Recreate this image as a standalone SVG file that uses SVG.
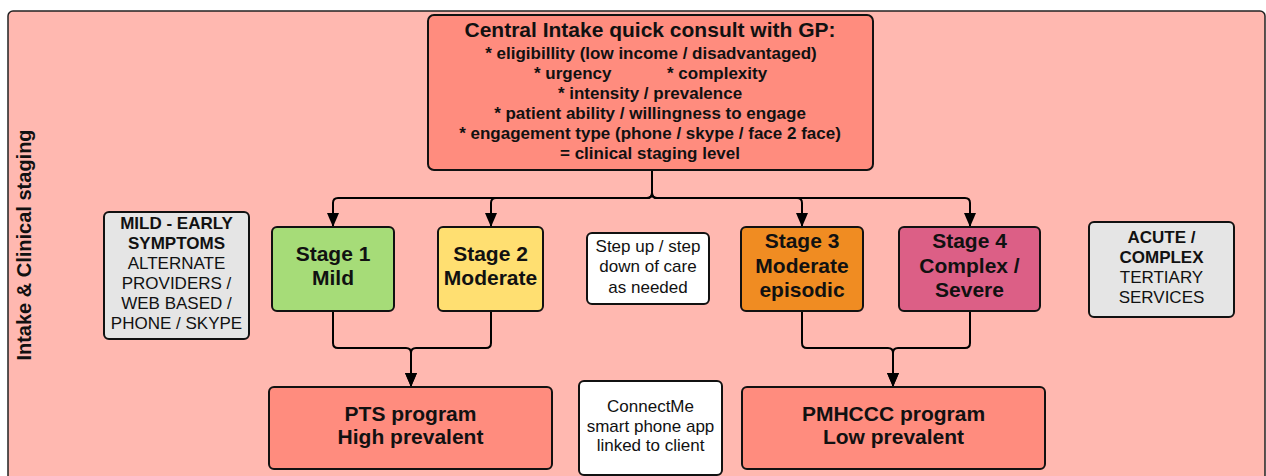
<svg xmlns="http://www.w3.org/2000/svg" width="1266" height="476" viewBox="0 0 1266 476">
  <defs>
    <!-- solid arrowhead, drawn along +x so orient="auto" points it down the wire -->
    <marker id="arrow" markerUnits="userSpaceOnUse" markerWidth="14" markerHeight="12" viewBox="0 0 14 12" refX="14" refY="6" orient="auto">
      <path d="M0,0 L14,6 L0,12 Z" fill="#000"/>
    </marker>
    <style>
      .box { stroke: #111; stroke-width: 2; }
      .lane { fill: #ffb8b0; stroke: #222; stroke-width: 1.5; }
      .salmon { fill: #ff8c7e; }
      .green { fill: #a6dc78; }
      .yellow { fill: #ffdf71; }
      .orange { fill: #f08c22; }
      .pink { fill: #dc5f86; }
      .grey { fill: #e5e5e5; }
      .white { fill: #ffffff; }
      text { font-family: "Liberation Sans", Arial, sans-serif; fill: #111; text-anchor: middle; }
      .b { font-weight: bold; }
      .s17 { font-size: 17px; }
      .s21 { font-size: 21px; }
      .wire { fill: none; stroke: #000; stroke-width: 2; }
    </style>
  </defs>

  <!-- swimlane -->
  <g id="lane">
    <rect class="lane" x="8" y="11" width="1257" height="480" rx="5"/>
    <text class="b" font-size="20" transform="translate(31 245) rotate(-90)">Intake &amp; Clinical staging</text>
  </g>

  <!-- connectors -->
  <g id="connectors">
    <path class="wire" marker-end="url(#arrow)" d="M652 170 V193 Q652 198 647 198 H338 Q333 198 333 203 V227"/>
    <path class="wire" marker-end="url(#arrow)" d="M652 170 V193 Q652 198 647 198 H496 Q491 198 491 203 V227"/>
    <path class="wire" marker-end="url(#arrow)" d="M652 170 V193 Q652 198 657 198 H797 Q802 198 802 203 V227"/>
    <path class="wire" marker-end="url(#arrow)" d="M652 170 V193 Q652 198 657 198 H965 Q970 198 970 203 V227"/>
    <path class="wire" marker-end="url(#arrow)" d="M333 311 V343 Q333 348 338 348 H406 Q411 348 411 353 V387"/>
    <path class="wire" marker-end="url(#arrow)" d="M491 311 V343 Q491 348 486 348 H416 Q411 348 411 353 V387"/>
    <path class="wire" marker-end="url(#arrow)" d="M802 311 V343 Q802 348 807 348 H888 Q893 348 893 353 V387"/>
    <path class="wire" marker-end="url(#arrow)" d="M970 311 V343 Q970 348 965 348 H898 Q893 348 893 353 V387"/>
  </g>

  <g id="central-intake">
    <rect class="box salmon" x="428" y="15" width="445" height="155" rx="6"/>
    <text class="b s21" x="650" y="37">Central Intake quick consult with GP:</text>
    <text class="b s17" x="651" y="59">* eligibillity (low income / disadvantaged)</text>
    <text class="b s17" x="534" y="79" style="text-anchor:start">* urgency</text>
    <text class="b s17" x="667" y="79" style="text-anchor:start">* complexity</text>
    <text class="b s17" x="650" y="99">* intensity / prevalence</text>
    <text class="b s17" x="650" y="119">* patient ability / willingness to engage</text>
    <text class="b s17" x="650" y="139">* engagement type (phone / skype / face 2 face)</text>
    <text class="b s17" x="650" y="159">= clinical staging level</text>
  </g>

  <g id="mild-early">
    <rect class="box grey" x="104" y="212" width="145" height="127" rx="5"/>
    <text class="b s17" x="176.5" y="229">MILD - EARLY</text>
    <text class="b s17" x="176.5" y="249">SYMPTOMS</text>
    <text class="s17" x="176.5" y="269">ALTERNATE</text>
    <text class="s17" x="176.5" y="289">PROVIDERS /</text>
    <text class="s17" x="176.5" y="309">WEB BASED /</text>
    <text class="s17" x="176.5" y="329">PHONE / SKYPE</text>
  </g>

  <g id="stage-1">
    <rect class="box green" x="272" y="227" width="122" height="84" rx="5"/>
    <text class="b s21" x="333" y="261">Stage 1</text>
    <text class="b s21" x="333" y="285">Mild</text>
  </g>

  <g id="stage-2">
    <rect class="box yellow" x="438" y="227" width="105" height="84" rx="5"/>
    <text class="b s21" x="490.5" y="261">Stage 2</text>
    <text class="b s21" x="490.5" y="285">Moderate</text>
  </g>

  <g id="step-care">
    <rect class="box white" x="587" y="233" width="122" height="71" rx="5"/>
    <text class="s17" x="648" y="252">Step up / step</text>
    <text class="s17" x="648" y="272">down of care</text>
    <text class="s17" x="648" y="293">as needed</text>
  </g>

  <g id="stage-3">
    <rect class="box orange" x="741" y="227" width="122" height="84" rx="5"/>
    <text class="b s21" x="802" y="248">Stage 3</text>
    <text class="b s21" x="802" y="273">Moderate</text>
    <text class="b s21" x="802" y="297">episodic</text>
  </g>

  <g id="stage-4">
    <rect class="box pink" x="899" y="227" width="141" height="84" rx="5"/>
    <text class="b s21" x="969.5" y="248">Stage 4</text>
    <text class="b s21" x="969.5" y="273">Complex /</text>
    <text class="b s21" x="969.5" y="297">Severe</text>
  </g>

  <g id="acute-complex">
    <rect class="box grey" x="1089" y="222" width="145" height="95" rx="5"/>
    <text class="b s17" x="1161.5" y="243">ACUTE /</text>
    <text class="b s17" x="1161.5" y="263">COMPLEX</text>
    <text class="s17" x="1161.5" y="283">TERTIARY</text>
    <text class="s17" x="1161.5" y="303">SERVICES</text>
  </g>

  <g id="pts-program">
    <rect class="box salmon" x="269" y="387" width="283" height="82" rx="5"/>
    <text class="b s21" x="410.5" y="421">PTS program</text>
    <text class="b s21" x="410.5" y="444">High prevalent</text>
  </g>

  <g id="connectme">
    <rect class="box white" x="579" y="381" width="143" height="94" rx="5"/>
    <text class="s17" x="650.5" y="412">ConnectMe</text>
    <text class="s17" x="650.5" y="431.5">smart phone app</text>
    <text class="s17" x="650.5" y="451">linked to client</text>
  </g>

  <g id="pmhccc-program">
    <rect class="box salmon" x="742" y="387" width="303" height="82" rx="5"/>
    <text class="b s21" x="893.5" y="421">PMHCCC program</text>
    <text class="b s21" x="893.5" y="444">Low prevalent</text>
  </g>
</svg>
